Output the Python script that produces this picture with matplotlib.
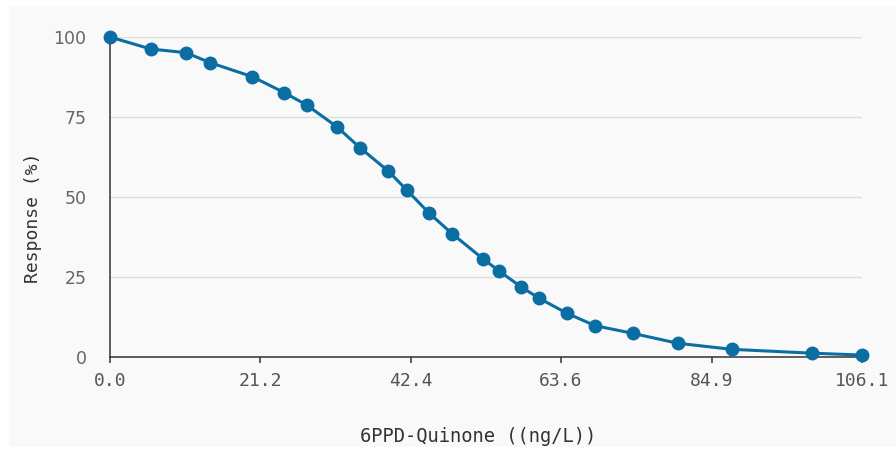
import matplotlib
matplotlib.use("Agg")
import matplotlib.pyplot as plt
from matplotlib.patches import Rectangle

# concentration (ng/L) and response (%)
conc = [0.0, 5.74, 10.72, 14.1, 20.08, 24.6, 27.75, 31.98, 35.27, 39.26, 41.86, 45.05,
        48.29, 52.67, 54.88, 57.94, 60.52, 64.43, 68.43, 73.74, 80.09, 87.71, 99.0, 106.1]
response = [100.0, 96.25, 95.1, 92.0, 87.6, 82.6, 78.75, 72.0, 65.4, 58.1, 52.2, 44.9,
            38.5, 30.6, 26.9, 22.0, 18.4, 13.7, 9.8, 7.4, 4.3, 2.4, 1.2, 0.6]

xticks = [0.0, 21.2, 42.4, 63.6, 84.9, 106.1]
xtick_labels = ["0.0", "21.2", "42.4", "63.6", "84.9", "106.1"]
yticks = [0, 25, 50, 75, 100]

W, H = 896, 450
fig = plt.figure(figsize=(W / 100, H / 100), dpi=100, facecolor="white")

# light panel behind the chart
fig.patches.append(Rectangle((9 / W, 3 / H), 1 - 9 / W, 1 - 9 / H,
                             transform=fig.transFigure, facecolor="#f9f9f9",
                             edgecolor="none", zorder=-5))

ax = fig.add_axes([110 / W, 1 - 357 / H, 752 / W, 320 / H])
ax.set_facecolor("none")

ax.plot(conc, response, color="#0a6ea3", linewidth=2.2, marker="o",
        markersize=9, clip_on=False, zorder=3)

ax.set_xlim(0, 106.1)
ax.set_ylim(0, 100)

ax.set_xticks(xticks)
ax.set_xticklabels(xtick_labels, family="DejaVu Sans Mono", fontsize=13, color="#555555")
ax.set_yticks(yticks)
ax.set_yticklabels([str(v) for v in yticks], family="DejaVu Sans", fontsize=12.5, color="#666666")

ax.tick_params(axis="x", length=4.5, width=1.1, color="#333333", pad=6)
ax.tick_params(axis="y", length=0, pad=17)

ax.grid(axis="y", color="#dddddd", linewidth=1.0)
ax.set_axisbelow(True)

for s in ["top", "right"]:
    ax.spines[s].set_visible(False)
for s in ["left", "bottom"]:
    ax.spines[s].set_color("#333333")
    ax.spines[s].set_linewidth(1.1)

fig.text(478 / W, 1 - 437 / H, "6PPD-Quinone ((ng/L))", family="DejaVu Sans Mono",
         fontsize=13.5, color="#333333", ha="center", va="center")
fig.text(33 / W, 1 - 218 / H, "Response (%)", family="DejaVu Sans Mono",
         fontsize=13, color="#333333", ha="center", va="center", rotation=90)

fig.savefig("out.png", dpi=100, facecolor="white")
